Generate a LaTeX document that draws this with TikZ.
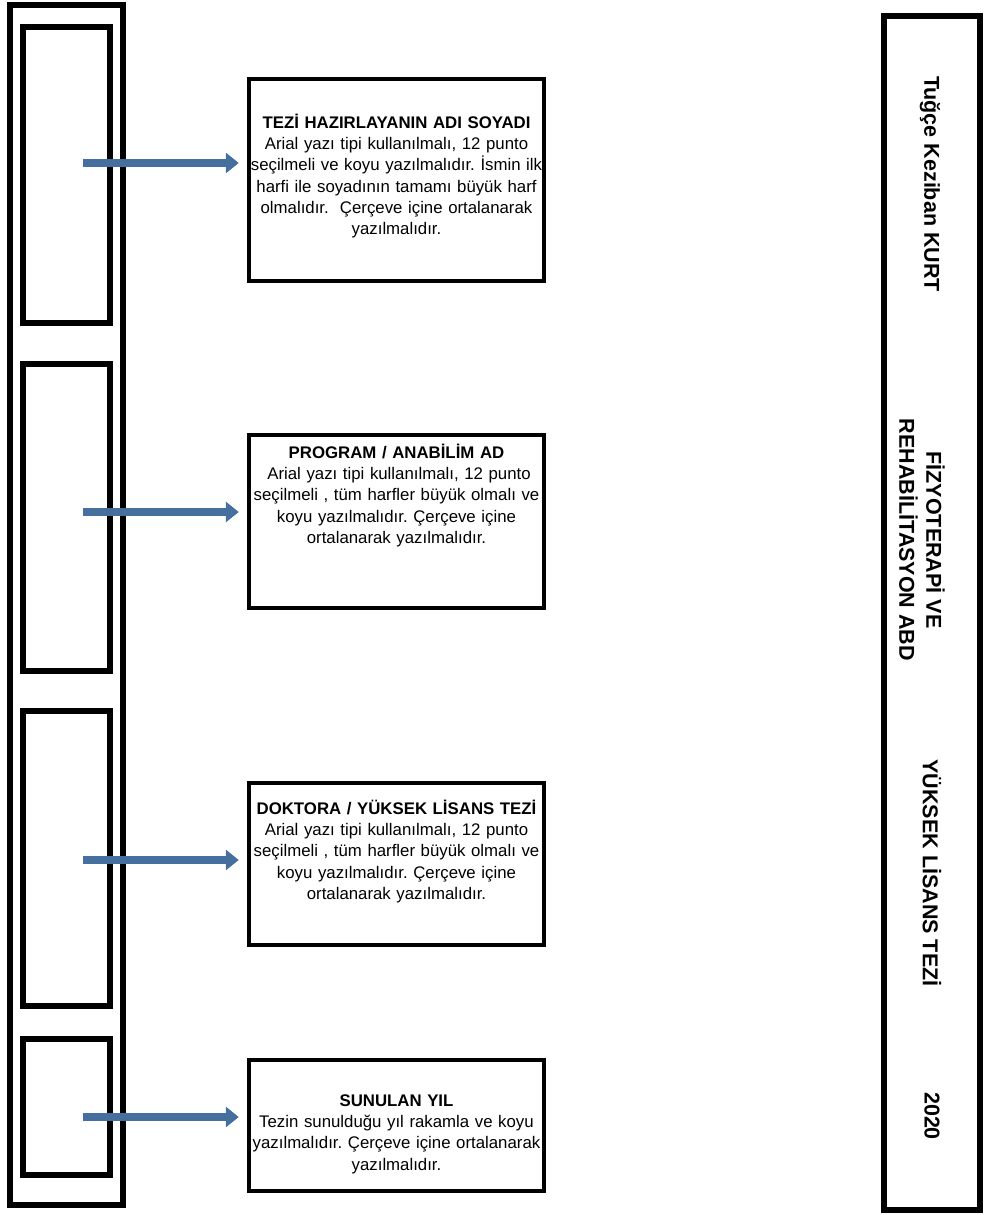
\documentclass[tikz,border=0pt]{standalone}
\usepackage{fontspec}
\setmainfont{Liberation Sans}
\usetikzlibrary{arrows.meta}
\definecolor{arrowblue}{RGB}{68,111,158}
\frenchspacing
\tikzset{
  frame/.style={draw=black,line width=6pt},
  tbox/.style={draw=black,line width=4.5pt,minimum width=295pt,inner sep=0pt},
  ttext/.style={anchor=north,text width=295pt,align=center,inner sep=0pt,
    font=\fontsize{16.8}{21.3}\selectfont},
  spine/.style={rotate=-90,align=center,inner sep=0pt,
    font=\fontsize{21.5}{27}\selectfont\bfseries},
  link/.style={draw=arrowblue,line width=8.5pt,-{Triangle[length=13pt,width=20pt]},shorten >=8pt}
}
\begin{document}
\begin{tikzpicture}[x=1pt,y=-1pt]
\useasboundingbox (0,0) rectangle (989,1215);
% left spine with its four fields
\draw[frame] (10,5) rectangle (123,1205);
\foreach \ya/\yb in {27/323,364/671,711/1006,1039/1175}
  \draw[frame] (23,\ya) rectangle (110,\yb);
% explanation boxes
\node[tbox,minimum height=202pt] (b1) at (396.5,180) {};
\node[tbox,minimum height=173pt] (b2) at (396.5,521.5) {};
\node[tbox,minimum height=162pt] (b3) at (396.5,864) {};
\node[tbox,minimum height=131pt] (b4) at (396.5,1125.5) {};
\node[ttext] (t1) at (396.5,113) {\strut\textbf{TEZİ HAZIRLAYANIN ADI SOYADI}\\
  Arial yazı tipi kullanılmalı, 12 punto\\
  seçilmeli ve koyu yazılmalıdır. İsmin ilk\\
  harfi ile soyadının tamamı büyük harf\\
  olmalıdır.\ \ Çerçeve içine ortalanarak\\
  yazılmalıdır.};
\node[ttext] (t2) at (396.5,443) {\strut\textbf{PROGRAM / ANABİLİM AD}\\
  \hspace*{5pt}Arial yazı tipi kullanılmalı, 12 punto\\
  seçilmeli , tüm harfler büyük olmalı ve\\
  koyu yazılmalıdır. Çerçeve içine\\
  ortalanarak yazılmalıdır.};
\node[ttext] (t3) at (396.5,799) {\strut\textbf{DOKTORA / YÜKSEK LİSANS TEZİ}\\
  Arial yazı tipi kullanılmalı, 12 punto\\
  seçilmeli , tüm harfler büyük olmalı ve\\
  koyu yazılmalıdır. Çerçeve içine\\
  ortalanarak yazılmalıdır.};
\node[ttext] (t4) at (396.5,1091) {\strut\textbf{SUNULAN YIL}\\
  Tezin sunulduğu yıl rakamla ve koyu\\
  yazılmalıdır. Çerçeve içine ortalanarak\\
  yazılmalıdır.};
% arrows from the spine to the boxes
\foreach \n/\y in {1/163,2/512,3/860,4/1117} {
  \coordinate (s\n) at (83,\y);
  \draw[link] (s\n) -- (s\n -| b\n.west);
}
% sample spine
\draw[frame] (884,16) rectangle (980,1210);
\node[spine] (name) at (930,184) {Tuğçe Keziban KURT};
\node[spine] (dept) at (922,540) {FİZYOTERAPİ VE\\REHABİLİTASYON ABD};
\node[spine] (kind) at (932,873) {YÜKSEK LİSANS TEZİ};
\node[spine] (year) at (932,1116) {2020};
\end{tikzpicture}
\end{document}
